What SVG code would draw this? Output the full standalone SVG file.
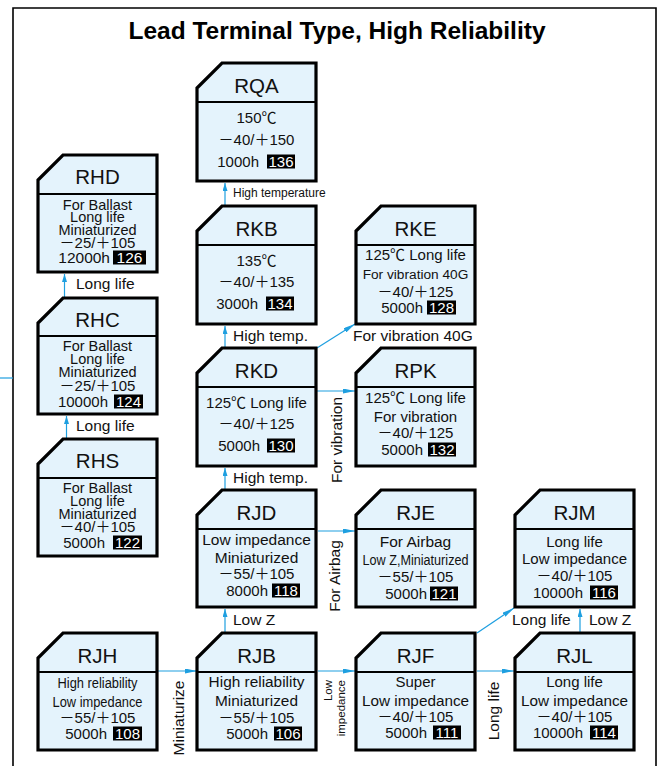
<svg xmlns="http://www.w3.org/2000/svg" width="664" height="766" viewBox="0 0 664 766">
<defs>
<style>
.nb{fill:#e4f3fc;stroke:#000;stroke-width:3.2;stroke-linejoin:miter}
.sep{stroke:#000;stroke-width:1.8}
.hd{font-family:"Liberation Sans",Arial,sans-serif;font-size:20.5px;text-anchor:middle;fill:#111}
.bd{font-family:"Liberation Sans","Noto Sans CJK JP",sans-serif;font-size:15px;text-anchor:middle;fill:#111}
.sm{font-size:14.5px}
.be{font-family:"Liberation Sans","Noto Sans CJK JP",sans-serif;font-size:15px;text-anchor:end;fill:#111}
.pg{fill:#000}
.pt{font-family:"Liberation Sans",Arial,sans-serif;font-size:15px;text-anchor:middle;fill:#fff}
.cn{stroke:#1e9fe0;stroke-width:1.2;fill:none}
.ah{marker-end:url(#ah)}
.av{marker-end:url(#av)}
.lb{font-family:"Liberation Sans",Arial,sans-serif;font-size:15.5px;fill:#111}
.title{font-family:"Liberation Sans",Arial,sans-serif;font-size:24.5px;font-weight:bold;text-anchor:middle;fill:#000}
</style>
<marker id="ah" viewBox="0 0 12 5" refX="12" refY="2.5" markerWidth="12" markerHeight="5" orient="auto" markerUnits="userSpaceOnUse"><path d="M0,0 L12,2.5 L0,5 Z" fill="#1e9fe0"/></marker>
<marker id="av" viewBox="0 0 8 5" refX="8" refY="2.5" markerWidth="8" markerHeight="5" orient="auto" markerUnits="userSpaceOnUse"><path d="M0,0 L8,2.5 L0,5 Z" fill="#1e9fe0"/></marker>
</defs>
<rect width="664" height="766" fill="#fff"/>
<path d="M13,770 V8 H656 V770" fill="none" stroke="#000" stroke-width="1.6"/>
<text class="title" x="337" y="38.5">Lead Terminal Type, High Reliability</text>

<g id="connectors">
<line class="cn" x1="0" y1="378" x2="13" y2="378"/>
<line class="cn av" x1="225" y1="205" x2="225" y2="183"/>
<line class="cn av" x1="225" y1="347" x2="225" y2="326"/>
<line class="cn av" x1="225" y1="489" x2="225" y2="468"/>
<line class="cn av" x1="225" y1="632" x2="225" y2="609"/>
<line class="cn av" x1="64.5" y1="297" x2="64.5" y2="274"/>
<line class="cn av" x1="66.5" y1="438" x2="66.5" y2="416"/>
<line class="cn av" x1="580" y1="632" x2="580" y2="609"/>
<line class="cn ah" x1="317" y1="348" x2="355" y2="324"/>
<line class="cn ah" x1="477" y1="633" x2="514" y2="608"/>
<line class="cn ah" x1="317" y1="391" x2="355" y2="391"/>
<line class="cn ah" x1="318" y1="531" x2="355" y2="531"/>
<line class="cn ah" x1="158" y1="671" x2="197" y2="671"/>
<line class="cn ah" x1="318" y1="671" x2="355" y2="671"/>
<line class="cn ah" x1="477" y1="671" x2="514" y2="671"/>
<text class="lb" x="233" y="197" style="font-size:12px">High temperature</text>
<text class="lb" x="233" y="341">High temp.</text>
<text class="lb" x="233" y="483">High temp.</text>
<text class="lb" x="233" y="625">Low Z</text>
<text class="lb" x="353" y="341">For vibration 40G</text>
<text class="lb" x="76" y="289">Long life</text>
<text class="lb" x="76" y="431">Long life</text>
<text class="lb" x="512" y="625">Long life</text>
<text class="lb" x="589" y="625">Low Z</text>
<text class="lb" transform="translate(342,440) rotate(-90)" text-anchor="middle">For vibration</text>
<text class="lb" transform="translate(340,576) rotate(-90)" text-anchor="middle">For Airbag</text>
<text class="lb" transform="translate(184,718) rotate(-90)" text-anchor="middle">Miniaturize</text>
<text class="lb" transform="translate(499,711) rotate(-90)" text-anchor="middle">Long life</text>
<text class="lb" transform="translate(332,680) rotate(-90)" text-anchor="end" style="font-size:11.5px">Low</text>
<text class="lb" transform="translate(345,680) rotate(-90)" text-anchor="end" style="font-size:11.5px">impedance</text>
</g>

<g id="RQA">
<path class="nb" d="M222,63 H316 V181 H197 V88 Z"/>
<line class="sep" x1="197" y1="102" x2="316" y2="102"/>
<text class="hd" x="256.5" y="92.5">RQA</text>
<text class="bd" x="256.5" y="123">150℃</text>
<text class="bd" x="256.5" y="145">－40/＋150</text>
<text class="be" x="259" y="167">1000h</text>
<rect class="pg" x="267" y="154.5" width="28" height="14"/>
<text class="pt" x="281" y="167">136</text>
</g>

<g id="RKB">
<path class="nb" d="M222,206 H316 V324 H197 V231 Z"/>
<line class="sep" x1="197" y1="245" x2="316" y2="245"/>
<text class="hd" x="256.5" y="235.5">RKB</text>
<text class="bd" x="256.5" y="266">135℃</text>
<text class="bd" x="256.5" y="287">－40/＋135</text>
<text class="be" x="258" y="309">3000h</text>
<rect class="pg" x="266" y="296.5" width="28" height="14"/>
<text class="pt" x="280" y="309">134</text>
</g>

<g id="RKD">
<path class="nb" d="M222,348 H316 V466 H197 V373 Z"/>
<line class="sep" x1="197" y1="387" x2="316" y2="387"/>
<text class="hd" x="256.5" y="377.5">RKD</text>
<text class="bd" x="256.5" y="408">125℃ Long life</text>
<text class="bd" x="256.5" y="429">－40/＋125</text>
<text class="be" x="260" y="451">5000h</text>
<rect class="pg" x="267" y="438.5" width="28" height="14"/>
<text class="pt" x="281" y="451">130</text>
</g>

<g id="RKE">
<path class="nb" d="M381,206 H475 V324 H356 V231 Z"/>
<line class="sep" x1="356" y1="245" x2="475" y2="245"/>
<text class="hd" x="415.5" y="235.5">RKE</text>
<text class="bd" x="415.5" y="260">125℃ Long life</text>
<text class="bd" x="415.5" y="279" style="font-size:13.7px">For vibration 40G</text>
<text class="bd" x="415.5" y="297">－40/＋125</text>
<text class="be" x="423" y="313">5000h</text>
<rect class="pg" x="427" y="300.5" width="29" height="14"/>
<text class="pt" x="441.5" y="313">128</text>
</g>

<g id="RPK">
<path class="nb" d="M381,348 H475 V466 H356 V373 Z"/>
<line class="sep" x1="356" y1="387" x2="475" y2="387"/>
<text class="hd" x="415.5" y="377.5">RPK</text>
<text class="bd" x="415.5" y="403">125℃ Long life</text>
<text class="bd" x="415.5" y="422">For vibration</text>
<text class="bd" x="415.5" y="438">－40/＋125</text>
<text class="be" x="423" y="455">5000h</text>
<rect class="pg" x="428" y="442.5" width="28" height="14"/>
<text class="pt" x="442" y="455">132</text>
</g>

<g id="RJD">
<path class="nb" d="M222,490 H316 V607 H197 V515 Z"/>
<line class="sep" x1="197" y1="529" x2="316" y2="529"/>
<text class="hd" x="256.5" y="519.5">RJD</text>
<text class="bd" x="256.5" y="545" style="font-size:15.5px">Low impedance</text>
<text class="bd" x="256.5" y="563" style="font-size:15.5px">Miniaturized</text>
<text class="bd" x="256.5" y="579">－55/＋105</text>
<text class="be" x="268" y="596">8000h</text>
<rect class="pg" x="272" y="583.5" width="28" height="14"/>
<text class="pt" x="286" y="596">118</text>
</g>

<g id="RJE">
<path class="nb" d="M381,490 H475 V607 H356 V515 Z"/>
<line class="sep" x1="356" y1="529" x2="475" y2="529"/>
<text class="hd" x="415.5" y="519.5">RJE</text>
<text class="bd" x="415.5" y="547" style="font-size:15.5px">For Airbag</text>
<text class="bd" x="415.5" y="565" style="font-size:14px" textLength="106" lengthAdjust="spacingAndGlyphs">Low Z,Miniaturized</text>
<text class="bd" x="415.5" y="582">－55/＋105</text>
<text class="be" x="427" y="599">5000h</text>
<rect class="pg" x="430" y="586.5" width="28" height="14"/>
<text class="pt" x="444" y="599">121</text>
</g>

<g id="RJM">
<path class="nb" d="M540,490 H634 V607 H515 V515 Z"/>
<line class="sep" x1="515" y1="529" x2="634" y2="529"/>
<text class="hd" x="574.5" y="519.5">RJM</text>
<text class="bd" x="574.5" y="547">Long life</text>
<text class="bd" x="574.5" y="564">Low impedance</text>
<text class="bd" x="574.5" y="581">－40/＋105</text>
<text class="be" x="583" y="598">10000h</text>
<rect class="pg" x="590" y="585.5" width="28" height="14"/>
<text class="pt" x="604" y="598">116</text>
</g>

<g id="RJH">
<path class="nb" d="M63,633 H157 V750 H38 V658 Z"/>
<line class="sep" x1="38" y1="672" x2="157" y2="672"/>
<text class="hd" x="97.5" y="662.5">RJH</text>
<text class="bd" x="97.5" y="688" style="font-size:14px" textLength="80" lengthAdjust="spacingAndGlyphs">High reliability</text>
<text class="bd" x="97.5" y="707" style="font-size:14.5px" textLength="90" lengthAdjust="spacingAndGlyphs">Low impedance</text>
<text class="bd" x="97.5" y="723">－55/＋105</text>
<text class="be" x="107" y="739">5000h</text>
<rect class="pg" x="113" y="726.5" width="29" height="14"/>
<text class="pt" x="127.5" y="739">108</text>
</g>

<g id="RJB">
<path class="nb" d="M222,633 H316 V750 H197 V658 Z"/>
<line class="sep" x1="197" y1="672" x2="316" y2="672"/>
<text class="hd" x="256.5" y="662.5">RJB</text>
<text class="bd" x="256.5" y="687" style="font-size:15.4px">High reliability</text>
<text class="bd" x="256.5" y="706" style="font-size:15.4px">Miniaturized</text>
<text class="bd" x="256.5" y="723">－55/＋105</text>
<text class="be" x="268" y="739">5000h</text>
<rect class="pg" x="274" y="726.5" width="28" height="14"/>
<text class="pt" x="288" y="739">106</text>
</g>

<g id="RJF">
<path class="nb" d="M381,633 H475 V750 H356 V658 Z"/>
<line class="sep" x1="356" y1="672" x2="475" y2="672"/>
<text class="hd" x="415.5" y="662.5">RJF</text>
<text class="bd" x="415.5" y="687">Super</text>
<text class="bd" x="415.5" y="706" style="font-size:15.3px">Low impedance</text>
<text class="bd" x="415.5" y="722">－40/＋105</text>
<text class="be" x="427" y="738">5000h</text>
<rect class="pg" x="433" y="725.5" width="28" height="14"/>
<text class="pt" x="447" y="738">111</text>
</g>

<g id="RJL">
<path class="nb" d="M540,633 H634 V750 H515 V658 Z"/>
<line class="sep" x1="515" y1="672" x2="634" y2="672"/>
<text class="hd" x="574.5" y="662.5">RJL</text>
<text class="bd" x="574.5" y="687">Long life</text>
<text class="bd" x="574.5" y="706" style="font-size:15.3px">Low impedance</text>
<text class="bd" x="574.5" y="722">－40/＋105</text>
<text class="be" x="583" y="738">10000h</text>
<rect class="pg" x="590" y="725.5" width="28" height="14"/>
<text class="pt" x="604" y="738">114</text>
</g>

<g id="RHD">
<path class="nb" d="M63,155 H157 V272 H38 V180 Z"/>
<line class="sep" x1="38" y1="194" x2="157" y2="194"/>
<text class="hd" x="97.5" y="184">RHD</text>
<text class="bd sm" x="97.5" y="210">For Ballast</text>
<text class="bd sm" x="97.5" y="222">Long life</text>
<text class="bd sm" x="97.5" y="235">Miniaturized</text>
<text class="bd" x="97.5" y="248">－25/＋105</text>
<text class="be" x="110" y="263" style="font-size:15.5px">12000h</text>
<rect class="pg" x="113" y="250.5" width="33" height="14"/>
<text class="pt" x="129.5" y="263" style="font-size:15.5px">126</text>
</g>

<g id="RHC">
<path class="nb" d="M63,298 H157 V414 H38 V323 Z"/>
<line class="sep" x1="38" y1="336" x2="157" y2="336"/>
<text class="hd" x="97.5" y="327">RHC</text>
<text class="bd sm" x="97.5" y="351">For Ballast</text>
<text class="bd sm" x="97.5" y="364">Long life</text>
<text class="bd sm" x="97.5" y="377">Miniaturized</text>
<text class="bd" x="97.5" y="391">－25/＋105</text>
<text class="be" x="108" y="407">10000h</text>
<rect class="pg" x="114" y="394.5" width="29" height="14"/>
<text class="pt" x="128.5" y="407">124</text>
</g>

<g id="RHS">
<path class="nb" d="M63,439 H157 V556 H38 V464 Z"/>
<line class="sep" x1="38" y1="478" x2="157" y2="478"/>
<text class="hd" x="97.5" y="468">RHS</text>
<text class="bd sm" x="97.5" y="493">For Ballast</text>
<text class="bd sm" x="97.5" y="506">Long life</text>
<text class="bd sm" x="97.5" y="519">Miniaturized</text>
<text class="bd" x="97.5" y="532">－40/＋105</text>
<text class="be" x="105" y="548">5000h</text>
<rect class="pg" x="113" y="535.5" width="29" height="14"/>
<text class="pt" x="127.5" y="548">122</text>
</g>
</svg>
